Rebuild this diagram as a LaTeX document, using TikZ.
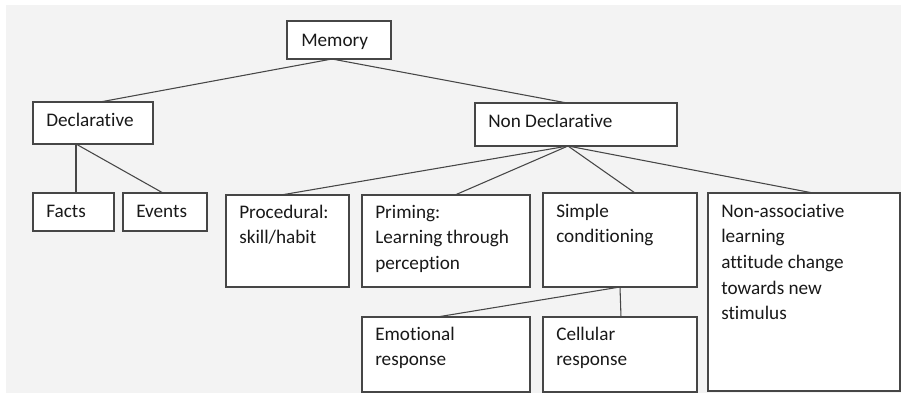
\documentclass[tikz,border=0pt]{standalone}
\usepackage{fontspec}
\setmainfont{Carlito}[Ligatures={NoCommon}]
\definecolor{bggray}{RGB}{243,243,243}
\definecolor{edgegray}{RGB}{70,70,70}
\newcommand\mkbox[5]{\node[boxst, anchor=north west, minimum width={(#4-#2)*0.75pt}, minimum height={(#5-#3)*0.75pt}] (#1) at (#2,#3) {};}
\newcommand\txtlines[1]{\begin{tabular}[t]{@{}l@{}}#1\end{tabular}}
\begin{document}
\begin{tikzpicture}[x=0.75pt,y=-0.75pt,
  boxst/.style={draw=edgegray, fill=white, line width=0.8pt, inner sep=0pt, outer sep=0pt},
  txt/.style={inner sep=0pt, anchor=base west, text=black!90,
    font=\fontsize{14.4}{19.3}\selectfont},
  conn/.style={draw=edgegray, line width=0.8pt}]
\useasboundingbox (0,0) rectangle (901,393);
\fill[bggray] (6,5) rectangle (901,393);
% boxes
\mkbox{mem}{287}{21}{391}{59}
\mkbox{decl}{33}{102}{153}{144}
\mkbox{nondecl}{475}{103}{677}{146}
\mkbox{facts}{33}{193}{114}{231}
\mkbox{events}{123}{193}{207}{231}
\mkbox{proc}{226}{195}{349}{287}
\mkbox{prim}{362}{195}{530}{287}
\mkbox{simple}{543}{193}{697}{287}
\mkbox{nonassoc}{708}{193}{900}{391}
\mkbox{emo}{362}{317}{530}{392}
\mkbox{cell}{543}{317}{697}{392}
% texts
\node[txt] (mem-t) at ([shift={(14,25)}]mem.north west) {Memory};
\node[txt] (decl-t) at ([shift={(13,24)}]decl.north west) {Declarative};
\node[txt] (nondecl-t) at ([shift={(13,24)}]nondecl.north west) {Non Declarative};
\node[txt] (facts-t) at ([shift={(13,24)}]facts.north west) {Facts};
\node[txt] (events-t) at ([shift={(13,24)}]events.north west) {Events};
\node[txt] (proc-t) at ([shift={(13,23)}]proc.north west) {\txtlines{Procedural:\\skill/habit}};
\node[txt] (prim-t) at ([shift={(13,23)}]prim.north west) {\txtlines{Priming:\\Learning through\\perception}};
\node[txt] (simple-t) at ([shift={(13,24)}]simple.north west) {\txtlines{Simple\\conditioning}};
\node[txt] (nonassoc-t) at ([shift={(13,24)}]nonassoc.north west) {\txtlines{Non-associative\\learning\\attitude change\\towards new\\stimulus}};
\node[txt] (emo-t) at ([shift={(13,23)}]emo.north west) {\txtlines{Emotional\\response}};
\node[txt] (cell-t) at ([shift={(13,23)}]cell.north west) {\txtlines{Cellular\\response}};
% connectors
\draw[conn] ([shift={(-7,0)}]mem.south) -- ([shift={(7,0)}]decl.north);
\draw[conn] ([shift={(-7,0)}]mem.south) -- ([shift={(-9,0)}]nondecl.north);
\draw[conn] ([shift={(-17,0)}]decl.south) -- ([shift={(2.5,0)}]facts.north);
\draw[conn] ([shift={(-17,0)}]decl.south) -- ([shift={(-2,0)}]events.north);
\draw[conn] ([shift={(-8,0)}]nondecl.south) -- ([shift={(-6.5,0)}]proc.north);
\draw[conn] ([shift={(-8,0)}]nondecl.south) -- ([shift={(9,0)}]prim.north);
\draw[conn] ([shift={(-8,0)}]nondecl.south) -- ([shift={(15,0)}]simple.north);
\draw[conn] ([shift={(-8,0)}]nondecl.south) -- ([shift={(9,0)}]nonassoc.north);
\draw[conn] (simple.south) -- ([shift={(-9,0)}]emo.north);
\draw[conn] (simple.south) -- ([shift={(1,0)}]cell.north);
\end{tikzpicture}
\end{document}
